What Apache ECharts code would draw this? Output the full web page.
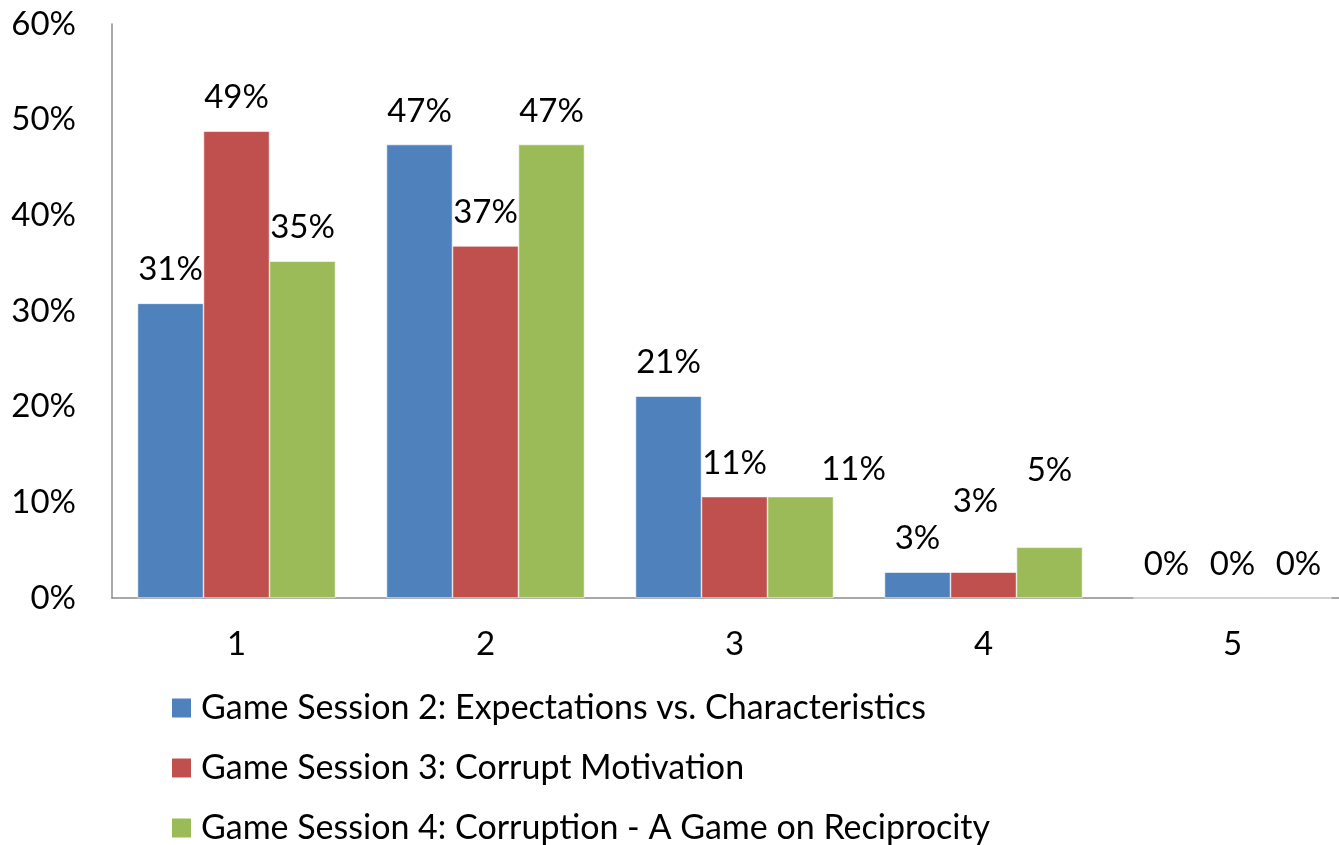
<!DOCTYPE html>
<html>
<head>
<meta charset="utf-8">
<script src="https://cdn.jsdelivr.net/npm/echarts@6/dist/echarts.min.js"></script>
<style>
  html, body { margin: 0; padding: 0; background: #fff; overflow: hidden; }
  /* the source chart is cut off on the right, so the canvas runs past the window */
  #chart { width: 1357px; height: 845px; }
</style>
</head>
<body>
<div id="chart"></div>
<script>
/** 数据 */
const categories = ["1", "2", "3", "4", "5"]
const seriesNames = [
    "Game Session 2: Expectations vs. Characteristics",
    "Game Session 3: Corrupt Motivation",
    "Game Session 4: Corruption - A Game on Reciprocity"
]
const session2 = [0.308, 0.474, 0.211, 0.027, 0]
const session3 = [0.488, 0.368, 0.106, 0.027, 0]
const session4 = [0.352, 0.474, 0.106, 0.053, 0]
const colors = ["#4F81BD", "#C0504D", "#9BBB59"]

/** 原图中手动挪过的数据标签：[系列, 类目, dx, dy] */
const labelNudges = [
    [2, 2, 53, 6],
    [1, 3, -8, -37],
    [2, 3, 0, -43]
]

const FONT = "Lato"
const FS = 33
const pct = v => Math.round(v * 100) + "%"

function makeSeries(idx, data, color) {
    let items = data.map((v, i) => {
        let n = labelNudges.find(d => d[0] === idx && d[1] === i)
        return n ? { value: v, label: { offset: [n[2], n[3]] } } : v
    })
    return {
        name: seriesNames[idx],
        type: "bar",
        data: items,
        barWidth: 66,
        barGap: "0%",
        itemStyle: { color: color, borderColor: "#fff", borderWidth: 0.6 },
        label: {
            show: true,
            position: "top",
            distance: 17,
            color: "#000",
            fontFamily: FONT,
            fontSize: FS,
            formatter: p => pct(p.value)
        }
    }
}

/** 图例：每行一个，避免竖排时自动换列 */
function makeLegend(name, top) {
    return {
        left: 170,
        top: top,
        padding: 0,
        icon: "rect",
        itemWidth: 21,
        itemHeight: 21,
        textStyle: { fontFamily: FONT, fontSize: 34, color: "#000", lineHeight: 34, padding: [0, 0, 0, 4] },
        data: [name]
    }
}

let chart = echarts.init(document.getElementById("chart"))
chart.setOption({
    animation: false,
    textStyle: { fontFamily: FONT },
    grid: { left: 112, top: 24, right: 0, bottom: 247 },
    legend: [
        makeLegend(seriesNames[0], 691),
        makeLegend(seriesNames[1], 751),
        makeLegend(seriesNames[2], 811)
    ],
    xAxis: {
        type: "category",
        data: categories,
        axisLine: { lineStyle: { color: "#8c8c8c", width: 1.5 } },
        axisTick: { show: false },
        axisLabel: { color: "#000", fontFamily: FONT, fontSize: FS, margin: 30 }
    },
    yAxis: {
        type: "value",
        min: 0,
        max: 0.6,
        interval: 0.1,
        axisLine: { show: true, lineStyle: { color: "#8c8c8c", width: 1.5 } },
        axisTick: { show: false },
        splitLine: { show: false },
        axisLabel: { color: "#000", fontFamily: FONT, fontSize: FS, margin: 36, formatter: v => pct(v) }
    },
    series: [
        makeSeries(0, session2, colors[0]),
        makeSeries(1, session3, colors[1]),
        makeSeries(2, session4, colors[2])
    ]
})
</script>
</body>
</html>
